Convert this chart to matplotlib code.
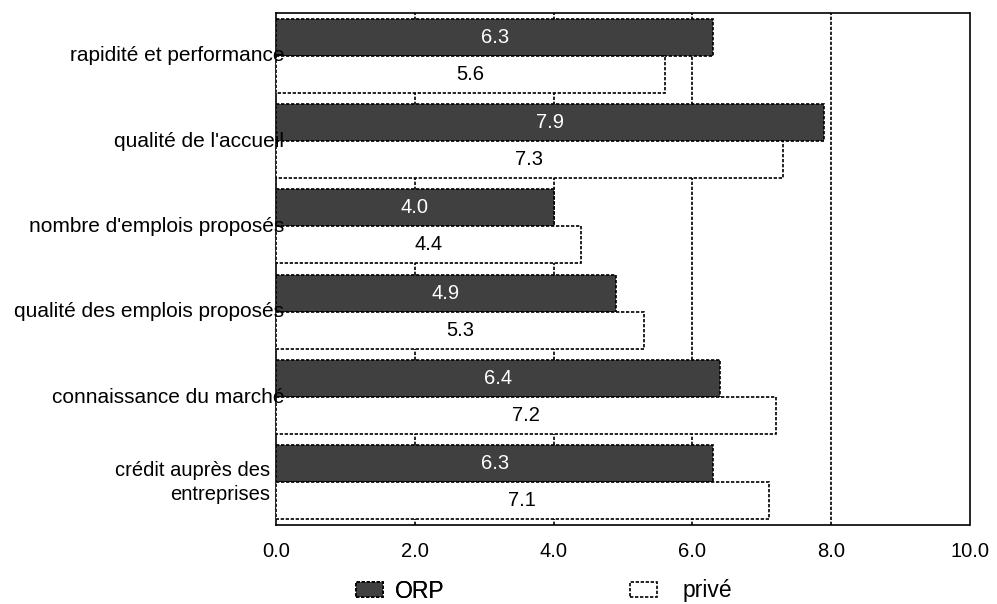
import numpy as np
import matplotlib.pyplot as plt
from matplotlib.patches import Patch

plt.rcParams["font.family"] = ["Liberation Sans", "DejaVu Sans"]
plt.rcParams["font.size"] = 14.5

categories = [
    "rapidité et performance",
    "qualité de l'accueil",
    "nombre d'emplois proposés",
    "qualité des emplois proposés",
    "connaissance du marché",
    "crédit auprès des\nentreprises",
]
orp = [6.3, 7.9, 4.0, 4.9, 6.4, 6.3]
prive = [5.6, 7.3, 4.4, 5.3, 7.2, 7.1]
x_ticks = [0, 2, 4, 6, 8, 10]

dark = "#404040"
dash = (0, (2, 1))

fig = plt.figure(figsize=(9.97, 6.04), dpi=100)
ax = fig.add_axes([276 / 997, 1 - 525 / 604, (970 - 276) / 997, (525 - 13) / 604])

y = np.arange(len(categories))
h = 0.435

ax.barh(y - h / 2, orp, height=h, color=dark, edgecolor="black",
        linewidth=1.2, linestyle=dash, zorder=3)
ax.barh(y + h / 2, prive, height=h, color="white", edgecolor="black",
        linewidth=1.2, linestyle=dash, zorder=3)

for yi, v in zip(y, orp):
    ax.text(v / 2, yi - h / 2, f"{v:.1f}", color="white", ha="center",
            va="center", zorder=4)
for yi, v in zip(y, prive):
    ax.text(v / 2, yi + h / 2, f"{v:.1f}", color="black", ha="center",
            va="center", zorder=4)

ax.set_xlim(0, 10)
ax.set_ylim(len(categories) - 0.5, -0.5)
ax.set_xticks(x_ticks)
ax.set_xticklabels([f"{t:.1f}" for t in x_ticks])
ax.tick_params(axis="x", length=0, pad=12)
ax.set_yticks([])

for t in x_ticks[1:-1]:
    ax.axvline(t, color="black", linewidth=1.2, linestyle=dash, zorder=1)

for s in ax.spines.values():
    s.set_linestyle(dash)
    s.set_linewidth(1.2)

# category labels, slightly overlapping the left axis like the original
for yi, lab in zip(y, categories):
    if "\n" in lab:
        ax.annotate(lab, (0, yi), xytext=(-4, 0), textcoords="offset points",
                    ha="right", va="center", multialignment="right",
                    linespacing=1.35, annotation_clip=False)
    else:
        ax.annotate(lab, (0, yi), xytext=(6, 0), textcoords="offset points",
                    ha="right", va="center", fontsize=15.0,
                    annotation_clip=False)

h_orp = Patch(facecolor=dark, edgecolor="black", linestyle=dash, linewidth=1.2)
h_prive = Patch(facecolor="white", edgecolor="black", linestyle=dash, linewidth=1.2)
leg_kw = dict(frameon=False, loc="center left", fontsize=16.5,
              handlelength=1.18, handleheight=0.65, borderpad=0,
              borderaxespad=0)
leg1 = fig.legend([h_orp], ["ORP"], bbox_to_anchor=(356 / 997, 1 - 591 / 604),
                  handletextpad=0.5, **leg_kw)
fig.legend([h_prive], ["privé"], bbox_to_anchor=(630 / 997, 1 - 591 / 604),
           handletextpad=1.1, **leg_kw)
fig.add_artist(leg1)

plt.savefig("out.png", dpi=100)
plt.close()
